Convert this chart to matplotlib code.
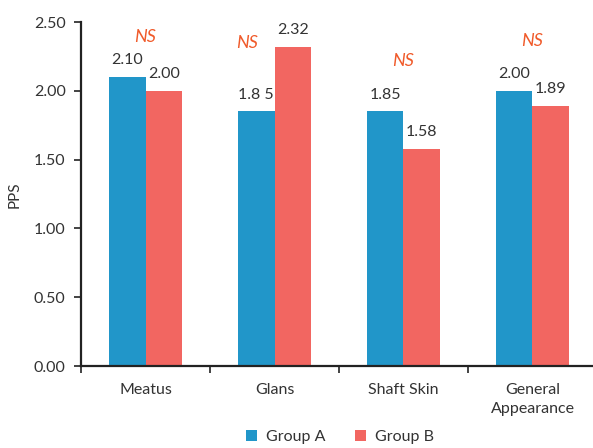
import matplotlib
matplotlib.use('Agg')
import matplotlib.pyplot as plt
import numpy as np

plt.rcParams['font.family'] = ['Lato', 'DejaVu Sans']

# data
categories = ['Meatus', 'Glans', 'Shaft Skin', 'General\nAppearance']
group_a = [2.10, 1.85, 1.85, 2.00]
group_b = [2.00, 2.32, 1.58, 1.89]
labels_a = ['2.10', '1.8 5', '1.85', '2.00']
labels_b = ['2.00', '2.32', '1.58', '1.89']
ns_y = [2.39, 2.35, 2.22, 2.36]
ns_dx = [0.0, -0.21, 0.0, 0.0]

blue = '#2196C9'
red = '#F26661'
ns_color = '#F05A2A'
txt = '#333333'

fig = plt.figure(figsize=(5.93, 4.48), dpi=100)
ax = fig.add_axes([81 / 593, (448 - 366) / 448, 516 / 593, 344 / 448])

x = np.arange(len(categories))
w = 0.283
ax.bar(x - w / 2, group_a, w, color=blue, label='Group A')
ax.bar(x + w / 2, group_b, w, color=red, label='Group B')

for i in range(len(categories)):
    ax.text(x[i] - w / 2, group_a[i] + 0.07, labels_a[i], ha='center', va='bottom',
            fontsize=11.5, color=txt)
    ax.text(x[i] + w / 2, group_b[i] + 0.07, labels_b[i], ha='center', va='bottom',
            fontsize=11.5, color=txt)
    ax.text(x[i] + ns_dx[i], ns_y[i], 'NS', ha='center', va='center',
            fontsize=13, color=ns_color, style='italic')

ax.set_xlim(-0.5, len(categories) - 0.5)
ax.set_ylim(0, 2.5)
ax.set_yticks(np.arange(0, 2.51, 0.5))
ax.set_yticklabels(['%.2f' % v for v in np.arange(0, 2.51, 0.5)])
ax.set_xticks(np.arange(-0.5, len(categories) - 0.4, 1))
ax.set_xticklabels([])
ax.set_xticks(x, minor=True)
ax.set_xticklabels(categories, minor=True, linespacing=1.45)
ax.tick_params(axis='x', which='minor', length=0, pad=12, labelsize=11.5, labelcolor=txt)
ax.tick_params(axis='x', which='major', length=5, width=1.2, color='#222222')
ax.tick_params(axis='y', length=5, width=1.2, color='#222222', labelsize=11.5, labelcolor=txt, pad=6)

for s in ['top', 'right']:
    ax.spines[s].set_visible(False)
for s in ['left', 'bottom']:
    ax.spines[s].set_linewidth(1.6)
    ax.spines[s].set_color('#222222')

fig.text(15 / 593, 1 - 195 / 448, 'PPS', rotation=90, ha='center', va='center',
         fontsize=11, color=txt)

fig.legend(loc='center', bbox_to_anchor=(340 / 593, 1 - 437 / 448), ncol=2, frameon=False,
           fontsize=11.5, handlelength=0.7, handleheight=0.7, columnspacing=1.8,
           handletextpad=0.6, labelcolor=txt)

fig.savefig('out.png', dpi=100)
